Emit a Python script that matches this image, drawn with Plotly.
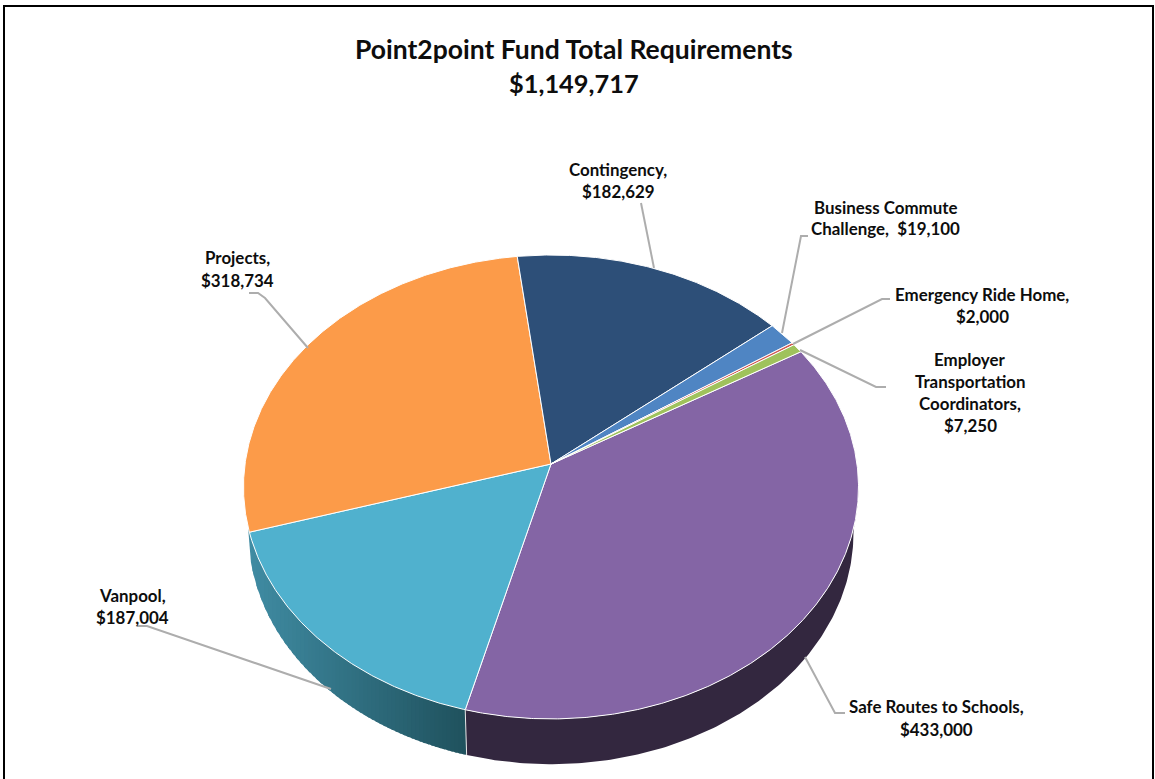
import numpy as np
import plotly.graph_objects as go

# ---- data ----
categories = ["Safe Routes to Schools", "Vanpool", "Projects", "Contingency",
              "Business Commute Challenge", "Emergency Ride Home",
              "Employer Transportation Coordinators"]
values = [433000, 187004, 318734, 182629, 19100, 2000, 7250]
colors = ["#8465A5", "#50B1CE", "#FC9B49", "#2D4F78", "#4F85C3", "#CF5650", "#9FC25C"]
title_lines = ["Point2point Fund Total Requirements", "$1,149,717"]

# ---- geometry of the tilted pie (perspective view of a disc) ----
W, H = 1155, 779
START_DEG = 59.1
CX = 551.0
TOP_APEX_Y, TOP_A, TOP_B = 464.0, 306.0, 229.7
BOT_APEX_Y, BOT_A, BOT_B = 510.0, 301.0, 229.0
K = 0.099


def project(deg, r=1.0, apex_y=TOP_APEX_Y, a=TOP_A, b=TOP_B):
    t = np.radians(deg)
    u, v = r * np.sin(t), r * np.cos(t)
    den = 1 + K * v
    return CX + a * u / den, apex_y - b * v / den


def bottom(deg):
    return project(deg, 1.0, BOT_APEX_Y, BOT_A, BOT_B)


total = sum(values)
spans = [v / total * 360 for v in values]
edges = [START_DEG]
for s in spans:
    edges.append(edges[-1] + s)

fig = go.Figure()


def poly(xs, ys, fill):
    fig.add_trace(go.Scatter(
        x=list(xs), y=list(ys), mode="lines", fill="toself", fillcolor=fill,
        line=dict(color=fill, width=0), hoverinfo="skip", showlegend=False))


# ---- side wall: Vanpool (left-to-right gradient, drawn as overlapping strips) ----
safe_end = edges[1]
LIGHT = np.array([64, 140, 163])
DARK = np.array([32, 82, 94])
a = np.linspace(safe_end, 264.5, 400)
bx, by = bottom(a)
order = np.argsort(bx)
bx_sorted, by_sorted = bx[order], by[order]
x_right = float(bottom(safe_end)[0])
x_left = float(bx_sorted[0])
strips = np.linspace(x_left, x_right, 56)
for i in range(len(strips) - 1):
    x0 = strips[i]
    x1 = x_right if i >= len(strips) - 2 else strips[i + 1] + 2.0
    f = i / (len(strips) - 2)
    c = LIGHT + (DARK - LIGHT) * f
    col = "rgb(%d,%d,%d)" % tuple(c)
    sx = np.linspace(x0, x1, 6)
    sy = np.interp(sx, bx_sorted, by_sorted)
    poly(np.r_[sx, sx[::-1]], np.r_[sy, np.full(6, 500.0)], col)

# ---- side wall: Safe Routes (flat dark purple) ----
a = np.linspace(safe_end, 95.6, 160)
bx, by = bottom(a)
tx, ty = project(a[::-1])
poly(np.r_[bx, tx], np.r_[by, ty], "#33273F")

# divider on the wall between Vanpool and Safe Routes
p0, p1 = project(safe_end), bottom(safe_end)
fig.add_trace(go.Scatter(x=[p0[0], p1[0]], y=[p0[1], p1[1]], mode="lines",
                         line=dict(color="#E8E8E8", width=1), hoverinfo="skip", showlegend=False))

# ---- top faces ----
for name, val, s0, s1, col in zip(categories, values, edges[:-1], edges[1:], colors):
    n = max(3, int((s1 - s0) * 3))
    a = np.linspace(s0, s1, n)
    x, y = project(a)
    fig.add_trace(go.Scatter(
        x=np.r_[CX, x, CX], y=np.r_[TOP_APEX_Y, y, TOP_APEX_Y], mode="lines", fill="toself",
        fillcolor=col, line=dict(color="white", width=1), name=name,
        hoverinfo="text", text=f"{name}: ${val:,}", showlegend=False))

# ---- leader lines ----
LEADERS = [
    ([641, 654], [203, 268]),
    ([249, 258, 265, 308], [293, 293, 298, 348]),
    ([137, 147, 331], [626, 626, 689]),
    ([808, 801, 782], [236, 236, 333]),
    ([890, 882, 793], [299, 299, 344]),
    ([886, 876, 800], [387, 387, 350]),
    ([845, 835, 805], [713, 713, 657]),
]
for lx, ly in LEADERS:
    fig.add_trace(go.Scatter(x=lx, y=ly, mode="lines", line=dict(color="#ADADAD", width=2),
                             hoverinfo="skip", showlegend=False))

# ---- outer frame (open at the bottom, as cropped) ----
fig.add_trace(go.Scatter(x=[4, 4, 1153, 1153], y=[779, 6, 6, 779], mode="lines",
                         line=dict(color="#000000", width=2), hoverinfo="skip", showlegend=False))

# ---- text ----
FONT = "Lato"
LABELS = [
    (618, [169, 191], ["Contingency,", "$182,629"]),
    (885, [207, 228], ["Business Commute", "Challenge,  $19,100"]),
    (982, [294, 316], ["Emergency Ride Home,", "$2,000"]),
    (970, [359, 381, 403, 425], ["Employer", "Transportation", "Coordinators,", "$7,250"]),
    (237, [257, 280], ["Projects,", "$318,734"]),
    (132, [595, 617], ["Vanpool,", "$187,004"]),
    (936, [706, 729], ["Safe Routes to Schools,", "$433,000"]),
]
ann = []
for cx, ys, lines in LABELS:
    for yy, t in zip(ys, lines):
        ann.append(dict(x=cx, y=yy, text=f"<b>{t}</b>", showarrow=False, xanchor="center", yanchor="middle",
                        font=dict(family=FONT, size=16.9, color="#0D0D0D")))
for yy, t, sz in zip([49, 83], title_lines, [26.5, 25.4]):
    ann.append(dict(x=574, y=yy, text=f"<b>{t}</b>", showarrow=False, xanchor="center", yanchor="middle",
                    font=dict(family=FONT, size=sz, color="#0D0D0D")))

fig.update_layout(
    width=W, height=H, margin=dict(l=0, r=0, t=0, b=0),
    paper_bgcolor="white", plot_bgcolor="white", showlegend=False, annotations=ann,
    xaxis=dict(range=[0, W], visible=False, fixedrange=True),
    yaxis=dict(range=[H, 0], visible=False, fixedrange=True),
)
fig.write_html("out.html", config={"displayModeBar": False},
               post_script="document.body.style.margin='0';document.documentElement.style.overflow='hidden';")
